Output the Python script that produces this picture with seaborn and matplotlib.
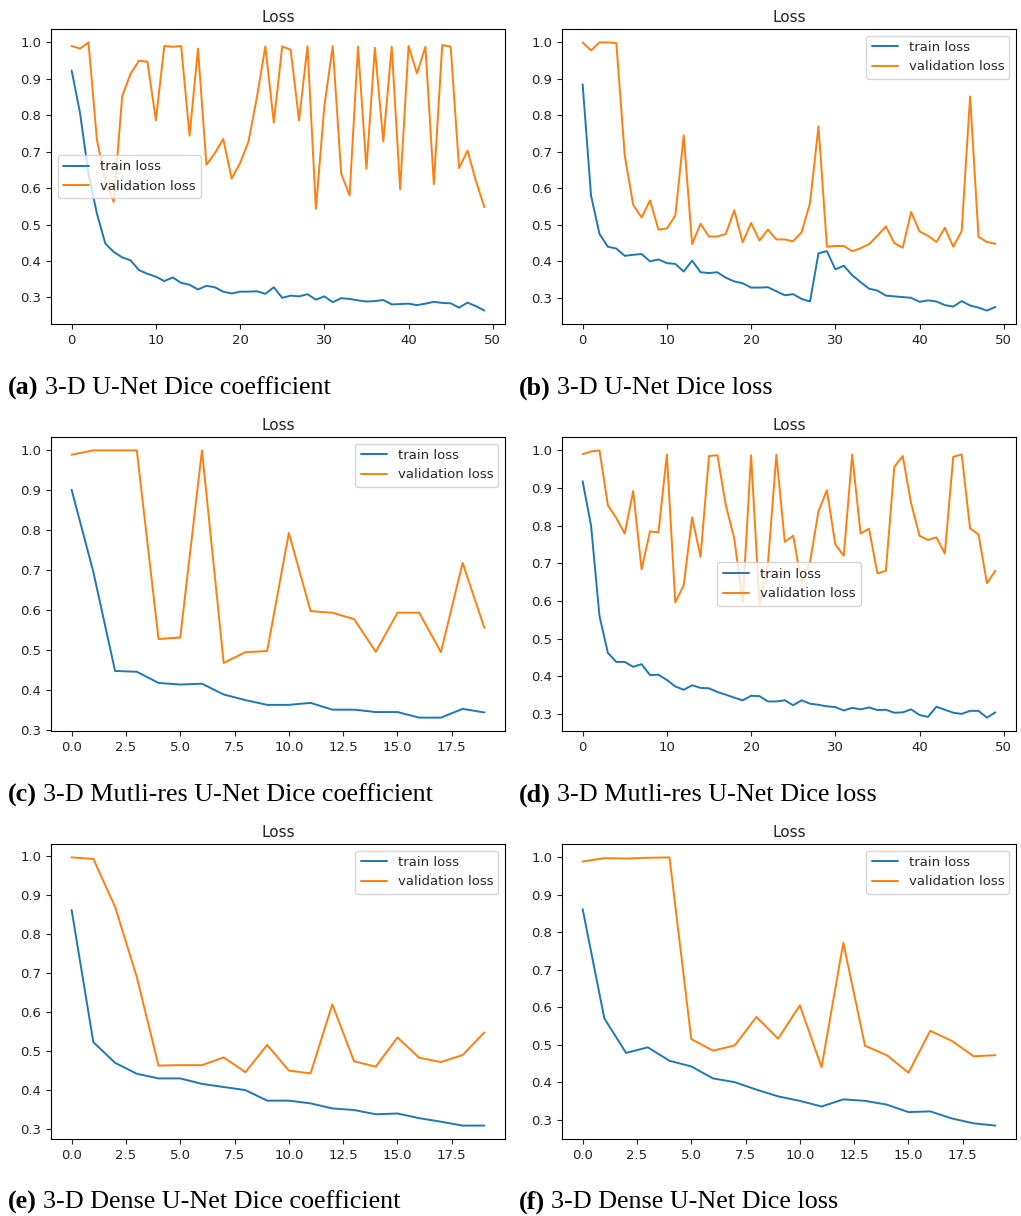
import numpy as np
import pandas as pd
import matplotlib
matplotlib.use("Agg")
import matplotlib.pyplot as plt
import seaborn as sns

# ---- training histories -------------------------------------------------
unet_coef_train = [0.923, 0.806, 0.64, 0.53, 0.448, 0.425, 0.41, 0.402, 0.375, 0.365,
                   0.357, 0.345, 0.355, 0.34, 0.335, 0.322, 0.332, 0.328, 0.316, 0.311,
                   0.316, 0.316, 0.317, 0.31, 0.328, 0.299, 0.305, 0.303, 0.309, 0.294,
                   0.303, 0.287, 0.298, 0.296, 0.292, 0.289, 0.29, 0.293, 0.281, 0.282,
                   0.283, 0.279, 0.283, 0.288, 0.285, 0.284, 0.272, 0.286, 0.276, 0.264]
unet_coef_val = [0.99, 0.983, 1.0, 0.733, 0.62, 0.562, 0.852, 0.914, 0.95, 0.947,
                 0.786, 0.99, 0.988, 0.99, 0.744, 0.983, 0.664, 0.696, 0.735, 0.626,
                 0.669, 0.728, 0.85, 0.989, 0.78, 0.989, 0.98, 0.786, 0.99, 0.543,
                 0.824, 0.99, 0.64, 0.58, 0.988, 0.653, 0.985, 0.728, 0.988, 0.597,
                 0.99, 0.915, 0.988, 0.611, 0.993, 0.988, 0.655, 0.703, 0.62, 0.548]

unet_loss_train = [0.885, 0.58, 0.475, 0.44, 0.435, 0.415, 0.418, 0.42, 0.4, 0.405,
                   0.395, 0.393, 0.372, 0.402, 0.37, 0.368, 0.37, 0.355, 0.345, 0.34,
                   0.328, 0.328, 0.329, 0.318, 0.307, 0.31, 0.297, 0.29, 0.422, 0.428,
                   0.378, 0.388, 0.362, 0.343, 0.325, 0.32, 0.306, 0.304, 0.302, 0.3,
                   0.289, 0.293, 0.29, 0.28, 0.276, 0.291, 0.279, 0.273, 0.265, 0.275]
unet_loss_val = [1.0, 0.978, 1.0, 1.0, 0.998, 0.69, 0.555, 0.52, 0.567, 0.487,
                 0.49, 0.525, 0.745, 0.447, 0.503, 0.468, 0.468, 0.475, 0.54, 0.452,
                 0.505, 0.457, 0.487, 0.46, 0.46, 0.455, 0.48, 0.56, 0.77, 0.44,
                 0.442, 0.442, 0.428, 0.436, 0.447, 0.47, 0.496, 0.45, 0.437, 0.535,
                 0.482, 0.47, 0.453, 0.492, 0.44, 0.483, 0.852, 0.467, 0.453, 0.448]

multires_coef_train = [0.901, 0.695, 0.447, 0.445, 0.417, 0.413, 0.415, 0.388, 0.374, 0.362,
                       0.362, 0.367, 0.35, 0.35, 0.344, 0.344, 0.33, 0.33, 0.352, 0.343]
multires_coef_val = [0.989, 1.0, 1.0, 1.0, 0.527, 0.531, 1.0, 0.467, 0.494, 0.497,
                     0.793, 0.597, 0.593, 0.577, 0.495, 0.593, 0.593, 0.494, 0.718, 0.555]

multires_loss_train = [0.918, 0.8, 0.56, 0.462, 0.438, 0.438, 0.425, 0.432, 0.403, 0.404,
                       0.39, 0.373, 0.364, 0.376, 0.369, 0.368, 0.358, 0.351, 0.343, 0.336,
                       0.348, 0.347, 0.333, 0.333, 0.336, 0.323, 0.336, 0.327, 0.324, 0.32,
                       0.318, 0.309, 0.316, 0.312, 0.317, 0.31, 0.311, 0.303, 0.304, 0.312,
                       0.297, 0.292, 0.319, 0.311, 0.303, 0.3, 0.308, 0.308, 0.29, 0.304]
multires_loss_val = [0.99, 0.997, 1.0, 0.854, 0.82, 0.779, 0.892, 0.684, 0.785, 0.782,
                     0.989, 0.596, 0.642, 0.822, 0.717, 0.985, 0.987, 0.854, 0.766, 0.598,
                     0.987, 0.589, 0.7, 0.988, 0.757, 0.773, 0.647, 0.704, 0.838, 0.894,
                     0.75, 0.72, 0.989, 0.779, 0.792, 0.673, 0.68, 0.956, 0.985, 0.859,
                     0.773, 0.762, 0.769, 0.726, 0.983, 0.989, 0.792, 0.777, 0.647, 0.68]

dense_coef_train = [0.862, 0.523, 0.47, 0.442, 0.43, 0.43, 0.416, 0.408, 0.4, 0.373,
                    0.373, 0.366, 0.353, 0.349, 0.338, 0.34, 0.328, 0.319, 0.309, 0.309]
dense_coef_val = [0.997, 0.993, 0.87, 0.69, 0.463, 0.464, 0.464, 0.484, 0.446, 0.516,
                  0.45, 0.443, 0.62, 0.474, 0.46, 0.535, 0.483, 0.472, 0.49, 0.548]

dense_loss_train = [0.862, 0.57, 0.478, 0.493, 0.457, 0.442, 0.41, 0.4, 0.38, 0.362,
                    0.35, 0.335, 0.354, 0.35, 0.34, 0.32, 0.322, 0.303, 0.29, 0.284]
dense_loss_val = [0.989, 0.998, 0.997, 0.999, 1.0, 0.515, 0.484, 0.498, 0.574, 0.516,
                  0.605, 0.44, 0.772, 0.497, 0.472, 0.425, 0.537, 0.51, 0.469, 0.472]

panel_tags = ["(a)", "(b)", "(c)", "(d)", "(e)", "(f)"]
panel_captions = ["3-D U-Net Dice coefficient", "3-D U-Net Dice loss",
                  "3-D Mutli-res U-Net Dice coefficient", "3-D Mutli-res U-Net Dice loss",
                  "3-D Dense U-Net Dice coefficient", "3-D Dense U-Net Dice loss"]
series_labels = ["train loss", "validation loss"]
histories = [(unet_coef_train, unet_coef_val), (unet_loss_train, unet_loss_val),
             (multires_coef_train, multires_coef_val), (multires_loss_train, multires_loss_val),
             (dense_coef_train, dense_coef_val), (dense_loss_train, dense_loss_val)]
legend_locs = ["center left", "upper right", "upper right", "center", "upper right", "upper right"]

# ---- figure layout (pixel based) -----------------------------------------
sns.set_style("white")
plt.rcParams.update({
    "axes.edgecolor": "black",
    "axes.linewidth": 0.8,
    "xtick.bottom": True,
    "ytick.left": True,
    "xtick.major.size": 3.5,
    "ytick.major.size": 3.5,
    "xtick.major.width": 0.8,
    "ytick.major.width": 0.8,
    "xtick.color": "#222222",
    "ytick.color": "#222222",
    "xtick.labelsize": 9.5,
    "ytick.labelsize": 9.5,
    "legend.fontsize": 9.5,
})
plt.rcParams["font.family"] = ["DejaVu Sans"]

W, H = 1021, 1216
fig = plt.figure(figsize=(W / 100, H / 100), dpi=100)
fig.patch.set_facecolor("white")

col_x = [(51, 505), (562, 1016)]
row_y = [(29, 324), (437, 731), (844, 1139)]
caption_y = [388, 795, 1202]
caption_x = [8, 519]
colors = ["#1f77b4", "#ff7f0e"]

for i, (train, val) in enumerate(histories):
    r, c = divmod(i, 2)
    x0, x1 = col_x[c]
    y0, y1 = row_y[r]
    ax = fig.add_axes([x0 / W, 1 - y1 / H, (x1 - x0) / W, (y1 - y0) / H])
    epochs = np.arange(len(train))
    df = pd.DataFrame({"epoch": np.concatenate([epochs, epochs]),
                       "value": np.concatenate([train, val]),
                       "series": [series_labels[0]] * len(train) + [series_labels[1]] * len(val)})
    sns.lineplot(data=df, x="epoch", y="value", hue="series", palette=colors,
                 linewidth=1.4, ax=ax)
    ax.set_xlabel("")
    ax.set_ylabel("")
    ax.set_title("Loss", fontsize=11, color="#222222", pad=5)
    ax.margins(x=0.05, y=0.05)
    ax.legend(loc=legend_locs[i], frameon=True, framealpha=0.8, edgecolor="#cccccc")
    for sp in ax.spines.values():
        sp.set_visible(True)
        sp.set_color("black")

    cy = 1 - caption_y[r] / H
    tag = fig.text(caption_x[c] / W, cy, panel_tags[i], fontsize=18.8,
                   family="Liberation Serif", fontweight="bold", va="center", ha="left",
                   color="black")
    fig.canvas.draw()
    bb = tag.get_window_extent()
    fig.text((bb.x1 + 6) / W, cy, panel_captions[i], fontsize=18.8,
             family="Liberation Serif", va="center", ha="left", color="black")

fig.savefig("out.png", dpi=100, facecolor="white")
